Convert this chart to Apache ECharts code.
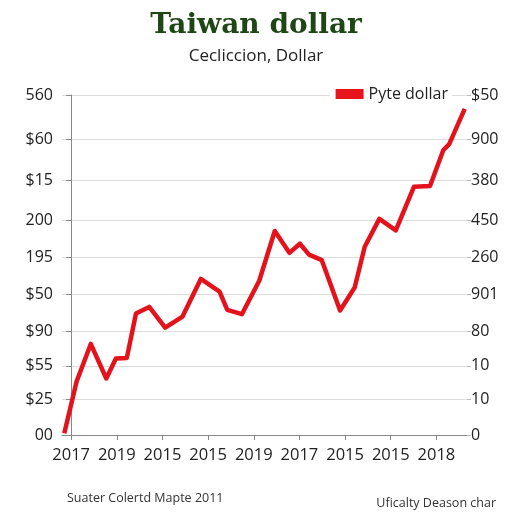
<!DOCTYPE html>
<html>
<head>
<meta charset="utf-8">
<script src="https://cdn.jsdelivr.net/npm/echarts@6/dist/echarts.min.js"></script>
<style>
    html, body {margin: 0; padding: 0; background: #fff;}
    #ET1 {width: 512px; height: 512px;}
</style>
</head>
<body>
<div id="ET1"></div>
<script>
// x positions are in "tick units": 0 = first labelled tick, 8 = last
var xLabels = ['2017', '2019', '2015', '2015', '2019', '2017', '2015', '2015', '2018'];
var xTicks = [0, 1, 2, 3, 4, 5, 6, 7, 8];

// gridlines are not evenly spaced in the original, so they sit at these values
var yGrid = [0, 59, 114, 171, 232, 293, 354, 419, 487, 560];
var leftLabels = ['00', '$25', '$55', '$90', '$50', '195', '200', '$15', '$60', '560'];
var rightLabels = ['0', '10', '10', '80', '901', '260', '450', '380', '900', '$50'];

var pyteX = [-0.15, 0.12, 0.43, 0.77, 0.98, 1.22, 1.42, 1.71, 2.06, 2.44,
    2.84, 3.25, 3.42, 3.74, 4.12, 4.46, 4.78, 5.01, 5.21, 5.49,
    5.89, 6.21, 6.43, 6.75, 7.11, 7.51, 7.86, 8.15, 8.28, 8.62];
var pyteY = [3, 88, 150, 93, 126, 127, 200, 211, 177, 195,
    257, 236, 206, 199, 254, 336, 300, 315, 297, 288,
    205, 243, 310, 356, 337, 409, 410, 469, 479, 537];

var pyteData = pyteX.map(function (x, i) {
    return [x, pyteY[i]];
});

function gridLabel(list) {
    return function (v) {
        var i = yGrid.indexOf(Math.round(v));
        return i < 0 ? '' : list[i];
    };
}

var myChart = echarts.init(document.getElementById('ET1'));
var option = {
    animation: false,
    textStyle: {fontFamily: 'Open Sans'},
    title: [
        {
            text: 'Taiwan dollar',
            subtext: 'Cecliccion, Dollar',
            left: 'center',
            top: 7,
            itemGap: 8,
            textStyle: {
                fontFamily: 'DejaVu Serif',
                fontWeight: 'bold',
                fontSize: 28,
                color: '#1f4716'
            },
            subtextStyle: {
                fontFamily: 'Open Sans',
                fontSize: 17,
                color: '#222'
            }
        },
        {
            text: 'Suater Colertd Mapte 2011',
            left: 62,
            top: 487,
            textStyle: {fontFamily: 'Open Sans', fontSize: 12.5, fontWeight: 'normal', color: '#333'}
        },
        {
            text: 'Uficalty Deason char',
            right: 11,
            top: 492,
            textStyle: {fontFamily: 'Open Sans', fontSize: 12.5, fontWeight: 'normal', color: '#333'}
        }
    ],
    legend: {
        data: ['Pyte dollar'],
        right: 60,
        top: 84,
        padding: [2, 4, 2, 6],
        backgroundColor: '#fff',
        icon: 'rect',
        itemWidth: 28,
        itemHeight: 10,
        itemGap: 8,
        textStyle: {fontFamily: 'Open Sans', fontSize: 16, color: '#222'}
    },
    grid: {
        left: 62,
        right: 45,
        top: 95,
        bottom: 77
    },
    xAxis: {
        type: 'value',
        min: -0.2,
        max: 8.67,
        splitLine: {show: false},
        axisLine: {lineStyle: {color: '#888'}},
        axisTick: {
            show: true,
            length: 5,
            customValues: xTicks,
            lineStyle: {color: '#888'}
        },
        axisLabel: {
            customValues: xTicks,
            margin: 12,
            fontSize: 16.5,
            color: '#222',
            formatter: function (v) {
                return xLabels[Math.round(v)];
            }
        }
    },
    yAxis: [
        {
            type: 'value',
            position: 'left',
            min: 0,
            max: 560,
            axisLine: {show: true, lineStyle: {color: '#888'}},
            axisTick: {
                show: true,
                length: 5,
                customValues: yGrid,
                lineStyle: {color: '#888'}
            },
            splitLine: {show: true, lineStyle: {color: '#ddd'}},
            axisLabel: {
                customValues: yGrid,
                margin: 9,
                fontSize: 16,
                color: '#222',
                formatter: gridLabel(leftLabels)
            }
        },
        {
            type: 'value',
            position: 'right',
            min: 0,
            max: 560,
            axisLine: {show: false},
            axisTick: {
                show: true,
                length: 4,
                customValues: yGrid,
                lineStyle: {color: '#bbb'}
            },
            splitLine: {show: false},
            axisLabel: {
                customValues: yGrid,
                margin: 4,
                fontSize: 16,
                color: '#222',
                formatter: gridLabel(rightLabels)
            }
        }
    ],
    series: [
        {
            name: 'Pyte dollar',
            type: 'line',
            data: pyteData,
            showSymbol: false,
            color: '#e8141b',
            lineStyle: {width: 4.5, color: '#e3121b', join: 'round'}
        }
    ]
};
myChart.setOption(option);
</script>
</body>
</html>
